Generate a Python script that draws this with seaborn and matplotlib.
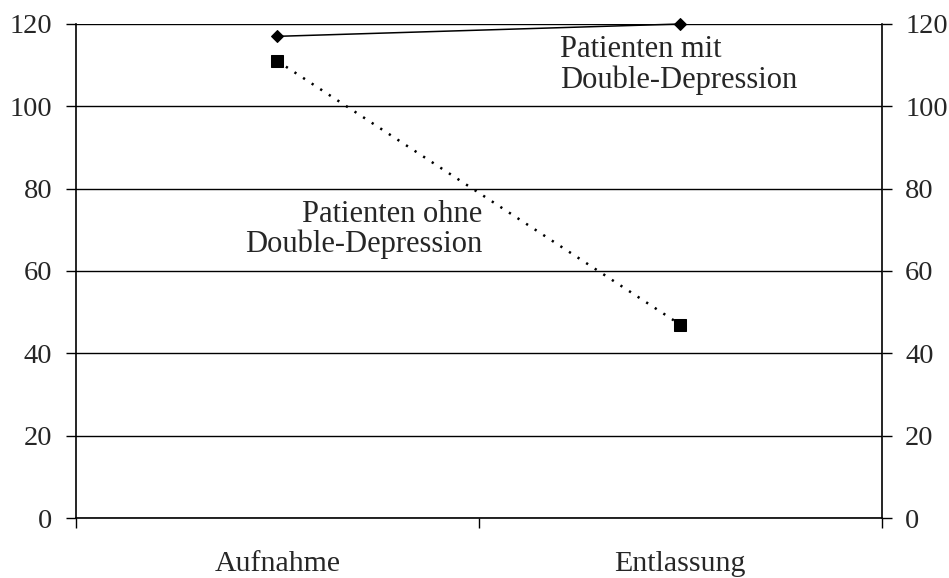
import matplotlib
matplotlib.use("Agg")
import matplotlib.pyplot as plt
import seaborn as sns
import pandas as pd

# Data
zeitpunkte = ["Aufnahme", "Entlassung"]
mit_dd = [117, 120]
ohne_dd = [111, 47]
y_ticks = [0, 20, 40, 60, 80, 100, 120]

df_mit = pd.DataFrame({"Zeitpunkt": zeitpunkte, "Wert": mit_dd})
df_ohne = pd.DataFrame({"Zeitpunkt": zeitpunkte, "Wert": ohne_dd})

sns.set_style("white")
plt.rcParams["font.family"] = ["Liberation Serif", "DejaVu Serif"]

fig = plt.figure(figsize=(9.49, 5.78), dpi=100)
ax = fig.add_axes([0.080, 0.1038, 0.849, 0.8547])

sns.lineplot(data=df_mit, x="Zeitpunkt", y="Wert", ax=ax, color="black",
             linewidth=1.1, marker="D", markersize=6.2,
             markeredgecolor="black", markerfacecolor="black", zorder=4,
             clip_on=False)
sns.lineplot(data=df_ohne, x="Zeitpunkt", y="Wert", ax=ax, color="black",
             linewidth=1.8, linestyle=(0, (0.9, 3.2)), marker="s", markersize=8,
             markeredgecolor="black", markerfacecolor="black", zorder=4,
             clip_on=False)

ax.set_xlim(-0.5, 1.5)
ax.set_ylim(0, 120)
ax.set_yticks(y_ticks)
ax.set_yticklabels([str(t) for t in y_ticks])
ax.set_xlabel("")
ax.set_ylabel("")

# horizontal gridlines
ax.grid(axis="y", color="black", linewidth=1.0)
ax.grid(axis="x", visible=False)
ax.set_axisbelow(True)

for side in ["left", "right", "bottom"]:
    ax.spines[side].set_visible(True)
    ax.spines[side].set_color("black")
    ax.spines[side].set_linewidth(1.2)
ax.spines["top"].set_visible(False)

# y ticks on both sides
ax.yaxis.set_ticks_position("both")
ax.tick_params(axis="y", which="major", direction="out", length=7, width=1,
               color="black", labelsize=20.5, pad=10,
               left=True, right=True, labelleft=True, labelright=True)

# x: category labels without ticks, ticks between categories
ax.set_xticks([0, 1])
ax.set_xticklabels(zeitpunkte)
ax.set_xticks([-0.5, 0.5, 1.5], minor=True)
ax.tick_params(axis="x", which="major", length=0, labelsize=21.5, pad=24)
ax.tick_params(axis="x", which="minor", direction="out", length=7, width=1,
               color="black", bottom=True)

# series labels
fs = 22
ax.text(0.702, 112.0, "Patienten mit", fontsize=fs, ha="left", va="baseline")
ax.text(0.702, 104.4, "Double-Depression", fontsize=fs, ha="left", va="baseline")
ax.text(0.509, 71.9, "Patienten ohne", fontsize=fs, ha="right", va="baseline")
ax.text(0.509, 64.6, "Double-Depression", fontsize=fs, ha="right", va="baseline")

fig.savefig("out.png", dpi=100, facecolor="white")
